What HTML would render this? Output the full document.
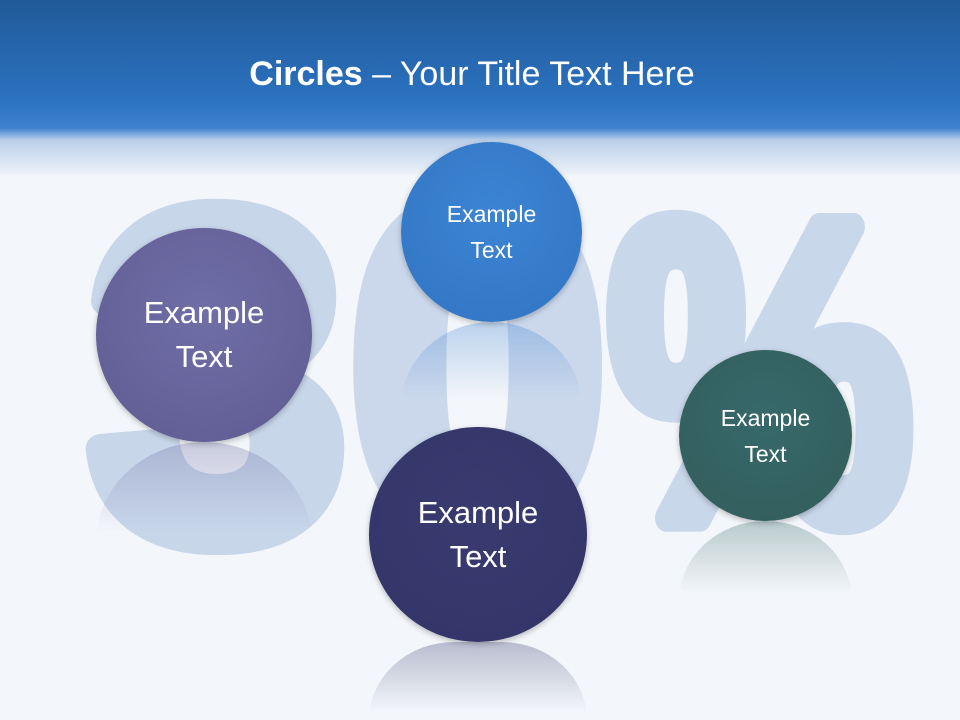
<!DOCTYPE html>
<html><head><meta charset="utf-8"><style>
html,body{margin:0;padding:0;width:960px;height:720px;overflow:hidden}
body{position:relative;background:#f3f6fa;font-family:"Liberation Sans",sans-serif}
.hdr{position:absolute;left:0;top:0;width:960px;height:175px;background:linear-gradient(#215a98 0px,#2b72c0 100px,#3c82cf 128px,#b9cfe9 140px,#eef3f9 175px)}
.title{position:absolute;top:55px;left:0;width:944px;text-align:center;color:#fff;font-size:34px}
.c{position:absolute;border-radius:50%;color:#fff;display:flex;align-items:center;justify-content:center;text-align:center;box-shadow:0 2px 6px rgba(0,0,0,.25)}
.r{position:absolute;opacity:.3;-webkit-mask-image:linear-gradient(#000,transparent 90%);mask-image:linear-gradient(#000,transparent 90%)}
</style></head><body>
<div class="hdr"></div>
<div class="title"><b>Circles</b> – Your Title Text Here</div>
<svg width="960" height="720" style="position:absolute;left:0;top:0">
<g fill="#c8d6ea" stroke="#c8d6ea" stroke-width="30" stroke-linejoin="round" font-family="Liberation Sans" font-weight="bold" text-anchor="middle" font-size="460">
<text x="218" y="535">3</text>
<text x="478" y="525" fill="#cbd8ec" stroke="#cbd8ec">0</text>
<text transform="translate(760,518) scale(0.74,0.92)" x="0" y="0" fill="#c9d7eb" stroke="#c9d7eb">%</text>
</g>
</svg>
<div class="r" style="left:96px;top:442px;width:216px;height:100px;border-radius:108px 108px 0 0/100px 100px 0 0;background:#6a6aa0"></div>
<div class="r" style="left:401px;top:322px;width:181px;height:85px;border-radius:90px 90px 0 0/85px 85px 0 0;background:#3a7fcf"></div>
<div class="r" style="left:369px;top:642px;width:218px;height:78px;border-radius:109px 109px 0 0/100px 100px 0 0;background:#363a6e"></div>
<div class="r" style="left:679px;top:521px;width:173px;height:80px;border-radius:86px 86px 0 0/80px 80px 0 0;background:#356661"></div>
<div class="c" style="left:96px;top:228px;width:216px;height:214px;background:radial-gradient(circle at 50% 40%,#6f6ea6,#625f96 80%,#575489);font-size:31px;line-height:44px">Example<br>Text</div>
<div class="c" style="left:401px;top:142px;width:181px;height:180px;background:radial-gradient(circle at 50% 40%,#3c84d4,#3378c6 80%,#2c6bb4);font-size:23px;line-height:36px">Example<br>Text</div>
<div class="c" style="left:369px;top:427px;width:218px;height:215px;background:radial-gradient(circle at 50% 40%,#393b70,#34366a 80%,#2d2f5e);font-size:31px;line-height:44px">Example<br>Text</div>
<div class="c" style="left:679px;top:350px;width:173px;height:171px;background:radial-gradient(circle at 50% 40%,#37696a,#335f5e 80%,#2c5453);font-size:23px;line-height:36px">Example<br>Text</div>
</body></html>
